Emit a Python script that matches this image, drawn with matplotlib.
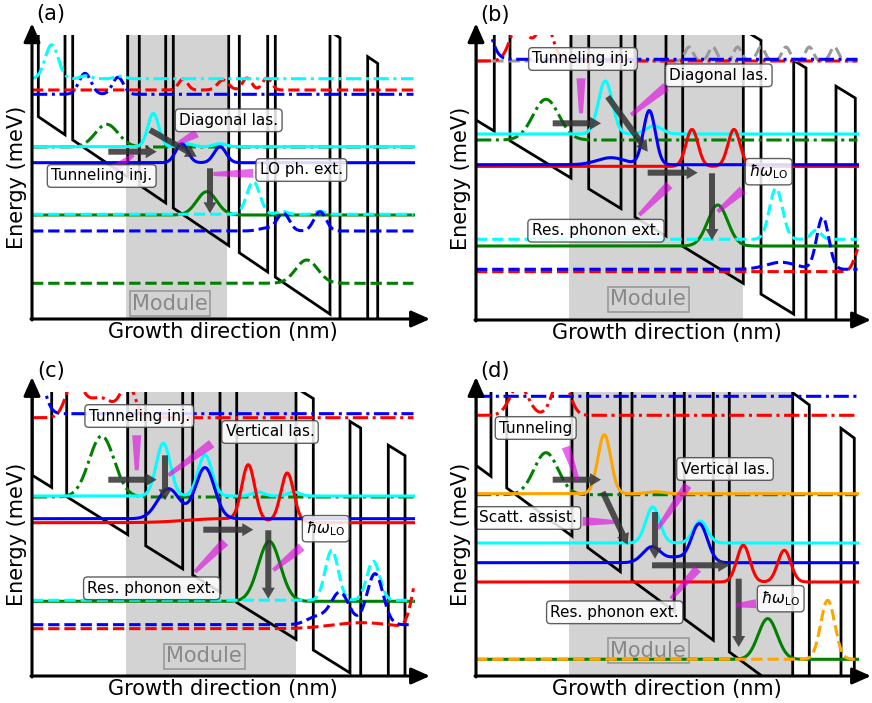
import numpy as np
import matplotlib
matplotlib.use('Agg')
import matplotlib.pyplot as plt
from matplotlib.patches import Rectangle, Polygon

HW = r'$\hbar\omega_{\mathrm{LO}}$'
DASHDOT = (0, (5, 1.5, 1, 1.5))

# ---------------- panel (a) ----------------
a_band = (206.6, 0.677, 283.0)      # band edge at x=0, slope, barrier height
a_barriers = [(-10, 6.3), (33, 40.7), (95.7, 107.3), (133.7, 141.3), (196.7, 207.3),
              (235.7, 243.3), (298, 308), (335.7, 345.7)]
a_module = (94.0, 194.7)
a_top = 284.0
# (level, [(centre, height, width), ...])
a_wf = [(229.0, [(151, 11, 4.5), (191, 10, 5.5), (215, 12, 4.5), (235, 12, 4.5)]),
        (224.7, [(53, 21, 6), (86, 17, 5.5)]),
        (240.3, [(19.7, 34, 6.5), (54, 3, 5), (88, 2.5, 5)]),
        (172.0, [(74.7, 22.7, 11.5)]),
        (172.3, [(121.3, 33.3, 5.5), (155, 3, 6), (188, 3, 6)]),
        (156.3, [(149.7, 19, 6), (188, 16, 6)]),
        (104.0, [(174.7, 23.3, 10)]),
        (104.7, [(221.3, 32.7, 6.5), (250, 3, 5), (288, 3, 5)]),
        (88.0, [(235, 3, 8), (251.3, 17.7, 6), (288, 19.3, 6)]),
        (35.7, [(274.7, 23.3, 11)])]
a_style = [('red', '--'), ('blue', '-.'), ('cyan', '-.'), ('green', '-.'), ('cyan', '-'),
           ('blue', '-'), ('green', '-'), ('cyan', '--'), ('blue', '--'), ('green', '--')]
a_arrows = [(76.3, 167.3, 124.7, 167.3), (118, 189, 164.7, 162.3), (178, 150.7, 178, 105.7)]
a_pink = [(81.3, 149, 101.3, 164), (164.7, 185.7, 146.3, 175.7), (221.3, 145.7, 181.3, 145)]
a_labels = [('Tunneling inj.', 69.7, 143), ('Diagonal las.', 196.7, 198.7), ('LO ph. ext.', 269.3, 149)]
a_modtxt = (138.0, 15.0)

# ---------------- panel (b) ----------------
b_band = (200.0, 0.611, 253.7)
b_barriers = [(-10, 0), (18.3, 34), (95, 112.7), (145, 159), (190, 206.7), (267.3, 285),
              (317.7, 330), (360, 379.3)]
b_module = (93.3, 267.3)
b_top = 285.0
b_wf = [(259.0, [(213, 14, 4), (236.7, 14, 4), (261.7, 14, 4), (285, 14, 4), (310, 14, 4),
                 (333.3, 14, 4), (358.3, 14, 4)]),
        (259.0, [(42, 35, 8), (60, 12, 10), (70, 32, 7)]),
        (260.7, [(3, 60, 9)]),
        (180.0, [(70, 40.7, 13)]),
        (186.0, [(129.3, 53, 7), (178, 8, 8)]),
        (153.6, [(216, 37, 6), (258, 37, 6)]),
        (155.3, [(135, 7, 14), (173.3, 54, 6)]),
        (74.0, [(241.7, 41, 10)]),
        (80.7, [(300, 51, 6.5), (340, 9, 5)]),
        (48.3, [(386, 30, 6)]),
        (50.7, [(305, 7, 15), (346.7, 52, 6)])]
b_style = [('#999999', '--'), ('red', '-.'), ('blue', '-.'), ('green', '-.'), ('cyan', '-'),
           ('red', '-'), ('blue', '-'), ('green', '-'), ('cyan', '--'), ('red', '--'), ('blue', '--')]
b_arrows = [(76.7, 196.7, 125, 196.7), (131.7, 223.3, 171.7, 168.3),
            (171.7, 147.3, 221.7, 147.3), (236, 146.7, 236, 80)]
b_pink = [(105, 241.7, 105, 206.7), (190, 233.3, 155, 205), (266.7, 130, 241.7, 108.3),
          (193.3, 135, 163.3, 105)]
b_labels = [('Tunneling inj.', 107, 261), ('Diagonal las.', 242.7, 244.7), (HW, 292.7, 148.3),
            ('Res. phonon ext.', 120, 89.3)]
b_modtxt = (172.3, 20.7)

# ---------------- panel (c) ----------------
c_band = (200.9, 0.622, 251.5)
c_barriers = [(-10, 0.3), (19.7, 34.7), (95.7, 113.7), (150.7, 160.7), (188, 204.7),
              (264, 281.3), (318, 328.7), (356.3, 373)]
c_module = (94.0, 264.0)
c_top = 284.0
c_wf = [(262.3, [(2, 60, 8)]),
        (258.3, [(42, 35, 8), (68, 20, 14), (96, 32, 7)]),
        (179.0, [(69.7, 61, 12.5)]),
        (180.0, [(131.3, 52.7, 7), (173, 41, 7), (226, 4, 6), (262, 4, 6)]),
        (153.3, [(190, 4, 35), (216.3, 55, 6.5), (255.3, 49, 6.5)]),
        (157.3, [(136.5, 30, 11), (173, 51, 9.5)]),
        (74.7, [(237.3, 60, 11)]),
        (75.7, [(299.7, 50, 6.5), (341.3, 39, 6.5)]),
        (47.3, [(330, 6, 30), (388, 60, 7)]),
        (51.3, [(285, 8, 10), (308, 32, 9), (343, 51, 8)])]
c_style = [('blue', '-.'), ('red', '-.'), ('green', '-.'), ('cyan', '-'), ('red', '-'),
           ('blue', '-'), ('green', '-'), ('cyan', '--'), ('red', '--'), ('blue', '--')]
c_arrows = [(76.3, 196.3, 124.7, 196.3), (133, 220.7, 133, 175.7),
            (171.3, 146.3, 221.3, 146.3), (236.3, 145.7, 236.3, 77.3)]
c_pink = [(104.7, 240.7, 104.7, 205.7), (179.7, 232.3, 136.3, 200.7), (269.7, 129, 241.3, 105.7),
          (193, 134, 163, 104)]
c_labels = [('Tunneling inj.', 107.3, 260), ('Vertical las.', 238, 244), (HW, 293.7, 147.3),
            ('Res. phonon ext.', 119.7, 87.7)]
c_modtxt = (172.3, 20.0)

# ---------------- panel (d) ----------------
d_band = (210.7, 0.737, 306.0)
d_barriers = [(-10, 0), (15, 30.7), (96, 111.7), (144.3, 156), (198.3, 208.3), (237.3, 253.3),
              (316.7, 333.3), (365, 378.3)]
d_module = (93.3, 316.0)
d_top = 284.0
d_wf = [(279.7, []),
        (260.7, [(43, 30, 9), (85, 40, 8)]),
        (181.3, [(70, 42, 12)]),
        (182.3, [(128.3, 59, 6.5), (180, 2, 8)]),
        (133.0, [(176.7, 36, 7), (224.3, 22, 7)]),
        (113.3, [(176, 16, 9), (200, 5, 8), (223.3, 39, 8)]),
        (94.0, [(267.3, 36.7, 6.5), (308.3, 31.7, 6.5)]),
        (16.7, [(291.7, 40.7, 9.5)]),
        (16.7, [(351.7, 59, 7)])]
d_style = [('blue', '-.'), ('red', '-.'), ('green', '-.'), ('orange', '-'), ('cyan', '-'),
           ('blue', '-'), ('red', '-'), ('green', '-'), ('orange', '--')]
d_arrows = [(76.7, 196.3, 125, 196.3), (126.7, 184, 151.7, 131.3), (179, 164, 179, 117.3),
            (176, 110.7, 253.3, 110.7), (262.7, 97.3, 262.7, 29)]
d_pink = [(90, 229, 101.7, 195.7), (106.7, 154.7, 138.3, 154), (211.7, 190.7, 181.7, 147.3),
          (221.7, 107.3, 195, 77.3), (280, 72.3, 260, 70.7)]
d_labels = [('Tunneling', 59.7, 248), ('Vertical las.', 249, 207), ('Scatt. assist.', 52, 158),
            ('Res. phonon ext.', 138.7, 63.7), (HW, 304.7, 77.3)]
d_modtxt = (172.3, 25.3)

panels = [
    dict(tag='(a)', origin=(32, 319), band=a_band, barriers=a_barriers, module=a_module, top=a_top,
         wf=a_wf, style=a_style, arrows=a_arrows, pink=a_pink, labels=a_labels, modtxt=a_modtxt,
         ytip=295.7, xtip=398),
    dict(tag='(b)', origin=(476, 320), band=b_band, barriers=b_barriers, module=b_module, top=b_top,
         wf=b_wf, style=b_style, arrows=b_arrows, pink=b_pink, labels=b_labels, modtxt=b_modtxt,
         ytip=296.7, xtip=395),
    dict(tag='(c)', origin=(32, 676), band=c_band, barriers=c_barriers, module=c_module, top=c_top,
         wf=c_wf, style=c_style, arrows=c_arrows, pink=c_pink, labels=c_labels, modtxt=c_modtxt,
         ytip=299, xtip=398),
    dict(tag='(d)', origin=(476, 676), band=d_band, barriers=d_barriers, module=d_module, top=d_top,
         wf=d_wf, style=d_style, arrows=d_arrows, pink=d_pink, labels=d_labels, modtxt=d_modtxt,
         ytip=299, xtip=395),
]

X_END = 381.5
W, H = 872, 703


def band_profile(v0, slope, height, barriers):
    xs, ys = [], []
    cur = None
    for xl, xr in barriers:
        if cur is not None:
            xs += [cur]
            ys += [v0 - slope * cur]
        xs += [xl, xl, xr, xr]
        ys += [v0 - slope * xl, v0 - slope * xl + height, v0 - slope * xr + height, v0 - slope * xr]
        cur = xr
    xs += [cur, 420]
    ys += [v0 - slope * cur, v0 - slope * 420]
    return xs, ys


def wedge(ax, x0, y0, x1, y1, w0=9, w1=4):
    d = np.array([x1 - x0, y1 - y0], dtype=float)
    n = np.array([-d[1], d[0]]) / np.hypot(*d)
    p0, p1 = np.array([x0, y0]), np.array([x1, y1])
    pts = [p0 + n * w0 / 2, p1 + n * w1 / 2, p1 - n * w1 / 2, p0 - n * w0 / 2]
    ax.add_patch(Polygon(pts, closed=True, fc='#dd00dd', ec='none', alpha=0.6, zorder=6))


fig = plt.figure(figsize=(W / 100, H / 100), dpi=100)
xx = np.linspace(0, X_END, 1500)

for p in panels:
    ox, oy = p['origin']
    ax = fig.add_axes([(ox - 32) / W, 1 - (oy + 27) / H, 436 / W, 348 / H])
    ax.set_xlim(-32, 404)
    ax.set_ylim(-27, 321)
    ax.axis('off')
    top = p['top']
    clip = Rectangle((0, 0), 383, top, transform=ax.transData)

    # module shading
    g0, g1 = p['module']
    ax.add_patch(Rectangle((g0, 0), g1 - g0, top, fc='#d3d3d3', ec='none', zorder=0))

    # conduction band
    bx, by = band_profile(*p['band'], p['barriers'])
    ln, = ax.plot(bx, by, color='black', lw=2.0, zorder=2, solid_joinstyle='miter')
    ln.set_clip_path(clip)

    # wavefunctions
    for (level, bumps), (col, ls) in zip(p['wf'], p['style']):
        yy = np.full_like(xx, level)
        for c, h, w in bumps:
            yy = yy + h * np.exp(-0.5 * ((xx - c) / w) ** 2)
        ln, = ax.plot(xx, yy, color=col, ls=DASHDOT if ls == '-.' else ls, lw=2.2, zorder=3)
        ln.set_clip_path(clip)

    # transitions
    for x0, y0, x1, y1 in p['arrows']:
        ax.arrow(x0, y0, x1 - x0, y1 - y0, width=6, head_width=13, head_length=11,
                 length_includes_head=True, fc='#333333', ec='none', alpha=0.85, zorder=5)
    for x0, y0, x1, y1 in p['pink']:
        wedge(ax, x0, y0, x1, y1)

    for txt, x, y in p['labels']:
        ax.text(x, y, txt, ha='center', va='center', fontsize=11, zorder=7,
                bbox=dict(boxstyle='round,pad=0.25', fc='white', ec='#444444', lw=1, alpha=0.85))

    mx, my = p['modtxt']
    ax.text(mx, my, 'Module', ha='center', va='center', fontsize=15, color='#888888', zorder=1,
            bbox=dict(boxstyle='square,pad=0.12', fc='#d3d3d3', ec='#999999', lw=1.2))

    # axes arrows
    arr = dict(arrowstyle='-|>,head_length=0.45,head_width=0.2', lw=2.2, color='black',
               mutation_scale=25, shrinkA=0, shrinkB=0)
    ax.annotate('', xy=(0, p['ytip']), xytext=(0, -1), arrowprops=arr, zorder=8)
    ax.annotate('', xy=(p['xtip'], 0), xytext=(-1, 0), arrowprops=arr, zorder=8)

    ax.text(190.5, -13.5, 'Growth direction (nm)', ha='center', va='center', fontsize=15)
    ax.text(-15.2, 142, 'Energy (meV)', ha='center', va='center', rotation=90, fontsize=15)
    ax.text(19, 304.5, p['tag'], ha='center', va='center', fontsize=15)

fig.savefig('out.png', dpi=100)
